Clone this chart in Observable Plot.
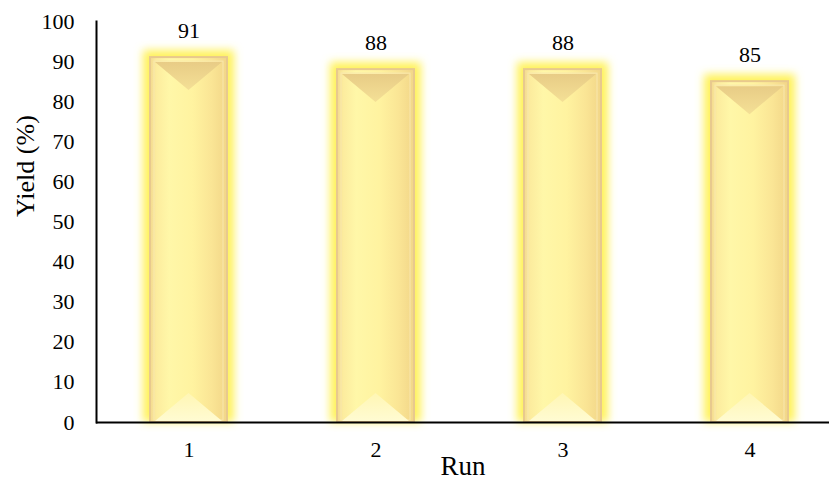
<!DOCTYPE html>
<html>
<head>
<meta charset="utf-8">
<script src="https://cdn.jsdelivr.net/npm/d3@7"></script>
<script src="https://cdn.jsdelivr.net/npm/@observablehq/plot@0.6"></script>
<style>
  html, body { margin: 0; padding: 0; background: #fff; }
  #chart svg { display: block; }
</style>
</head>
<body>
<div id="chart"></div>
<script>
const runs = ["1", "2", "3", "4"];
const yields = [91, 88, 88, 85];
const yTicks = [0, 10, 20, 30, 40, 50, 60, 70, 80, 90, 100];
const yTitle = "Yield (%)";
const xTitle = "Run";

const data = runs.map((r, i) => ({run: r, yield: yields[i]}));
const serif = "'Liberation Serif', 'Times New Roman', serif";

const chart = Plot.plot({
  width: 829,
  height: 488,
  marginLeft: 96,
  marginRight: 0,
  marginTop: 21,
  marginBottom: 66,
  style: {fontFamily: serif, fontSize: "22px", color: "#000", background: "#fff", overflow: "visible"},
  x: {domain: runs, range: [96, 841], paddingInner: 0.589, paddingOuter: 0.283, label: null, tickSize: 0, tickPadding: 19},
  y: {domain: [0, 100], ticks: yTicks, label: null, tickSize: 0, tickPadding: 22},
  marks: [
    // glow
    Plot.barY(data, {x: "run", y: "yield", fill: "#fff25a", insetLeft: -7, insetRight: -7, insetTop: -7}),
    // main bar
    Plot.barY(data, {x: "run", y: "yield", fill: "url(#barGrad)", stroke: "#e8c98e", strokeWidth: 2}),
    // inner bevel line
    Plot.barY(data, {x: "run", y: "yield", fill: "none", stroke: "#f8e7ae", strokeWidth: 1, insetLeft: 4, insetRight: 4, insetTop: 4, insetBottom: 2}),
    Plot.text(data, {x: "run", y: "yield", text: d => String(d.yield), dy: -27, fontSize: 22}),
    Plot.ruleY([0], {stroke: "#000", strokeWidth: 2}),
    Plot.frame({anchor: "left", stroke: "#000", strokeWidth: 2}),
    Plot.text([yTitle], {frameAnchor: "left", dx: -71, dy: -5, rotate: -90, fontSize: 26}),
    Plot.text([xTitle], {frameAnchor: "bottom", dy: 52, fontSize: 27})
  ]
});

// gradients & filter
const svg = d3.select(chart.tagName.toLowerCase() === "svg" ? chart : chart.querySelector("svg"));
const defs = svg.insert("defs", ":first-child");
const g = defs.append("linearGradient").attr("id", "barGrad").attr("x1", "0").attr("x2", "1").attr("y1", "0").attr("y2", "0");
[["0%", "#f3d98e"], ["8%", "#fcec9e"], ["25%", "#fff7a8"], ["55%", "#fff3a0"], ["80%", "#fae595"], ["100%", "#f2d688"]]
  .forEach(([o, c]) => g.append("stop").attr("offset", o).attr("stop-color", c));
const topG = defs.append("linearGradient").attr("id", "topGrad").attr("x1", "0").attr("x2", "0").attr("y1", "0").attr("y2", "1");
[["0%", "#e8cc86"], ["100%", "#f4e096"]].forEach(([o, c]) => topG.append("stop").attr("offset", o).attr("stop-color", c));
const botG = defs.append("linearGradient").attr("id", "botGrad").attr("x1", "0").attr("x2", "0").attr("y1", "0").attr("y2", "1");
[["0%", "#fff6b4"], ["100%", "#fffbd2"]].forEach(([o, c]) => botG.append("stop").attr("offset", o).attr("stop-color", c));
const f = defs.append("filter").attr("id", "glow").attr("x", "-40%").attr("y", "-10%").attr("width", "180%").attr("height", "120%");
f.append("feGaussianBlur").attr("stdDeviation", 4.5);

const barGroups = svg.selectAll('g[aria-label="bar"]').nodes();
if (barGroups[0]) barGroups[0].setAttribute("filter", "url(#glow)");
if (barGroups[1]) {
  const grp = d3.select(barGroups[1]);
  const tri = d3.select(barGroups[2] || barGroups[1]).append("g");
  grp.selectAll("rect").each(function() {
    const r = this;
    const x = +r.getAttribute("x"), y = +r.getAttribute("y");
    const w = +r.getAttribute("width"), h = +r.getAttribute("height");
    const l = x + 5, rr = x + w - 5, d = 28;
    tri.append("path")
      .attr("d", `M${l},${y + 5}L${rr},${y + 5}L${x + w / 2},${y + 5 + d}Z`)
      .attr("fill", "url(#topGrad)").attr("stroke", "none");
    tri.append("path")
      .attr("d", `M${l},${y + h - 1}L${rr},${y + h - 1}L${x + w / 2},${y + h - 1 - d}Z`)
      .attr("fill", "url(#botGrad)").attr("stroke", "none");
  });
}

document.getElementById("chart").appendChild(chart);
</script>
</body>
</html>
